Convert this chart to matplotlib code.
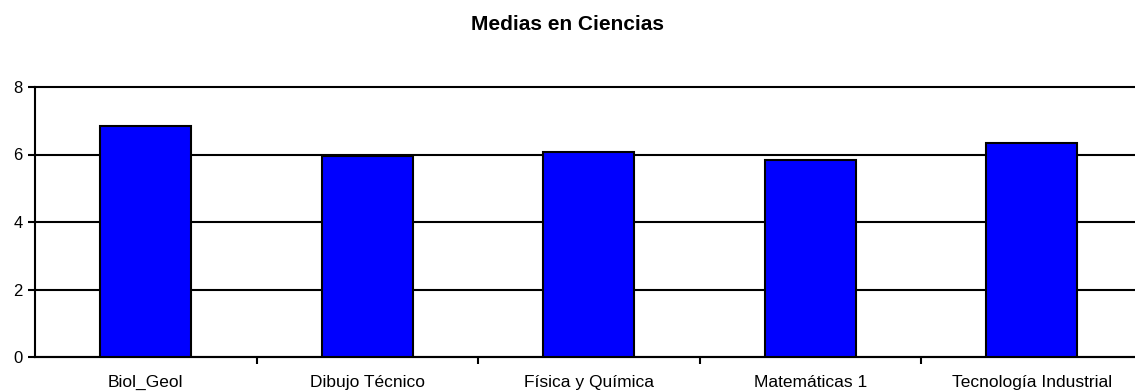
import matplotlib
matplotlib.use("Agg")
import matplotlib.pyplot as plt
import numpy as np

plt.rcParams['font.family'] = ['Liberation Sans', 'DejaVu Sans']

# Data
materias = ["Biol_Geol", "Dibujo Técnico", "Física y Química", "Matemáticas 1", "Tecnología Industrial"]
medias = [6.84, 5.96, 6.07, 5.84, 6.35]
y_ticks = [0, 2, 4, 6, 8]

fig = plt.figure(figsize=(11.35, 3.92), dpi=100)
ax = fig.add_axes([35 / 1135, 1 - 357 / 392, 1107.5 / 1135, 270 / 392])

x = np.arange(len(materias))
ax.bar(x, medias, width=0.41, color="#0000ff", edgecolor="black", linewidth=1.5, zorder=3)

ax.set_xlim(-0.5, len(materias) - 0.5)
ax.set_ylim(0, 8)
ax.set_yticks(y_ticks)
ax.yaxis.grid(True, color="black", linewidth=1.5, zorder=0)
for gl in ax.get_ygridlines():
    gl.set_clip_on(False)
ax.tick_params(axis="y", length=5, width=1.5, pad=4, labelsize=12)

# boundary ticks as major, category labels as minor
ax.set_xticks(x[:-1] + 0.5)
ax.set_xticklabels([])
ax.set_xticks(x, minor=True)
ax.set_xticklabels(materias, minor=True)
ax.tick_params(axis="x", which="major", length=5, width=1.5)
ax.tick_params(axis="x", which="minor", length=0, pad=13, labelsize=12.5)

for side in ["top", "right"]:
    ax.spines[side].set_visible(False)
for side in ["left", "bottom"]:
    ax.spines[side].set_linewidth(1.5)

fig.text(0.5, 1 - 30 / 392, "Medias en Ciencias", ha="center", va="baseline",
         fontsize=15, fontweight="bold")

fig.savefig("out.png", dpi=100)
